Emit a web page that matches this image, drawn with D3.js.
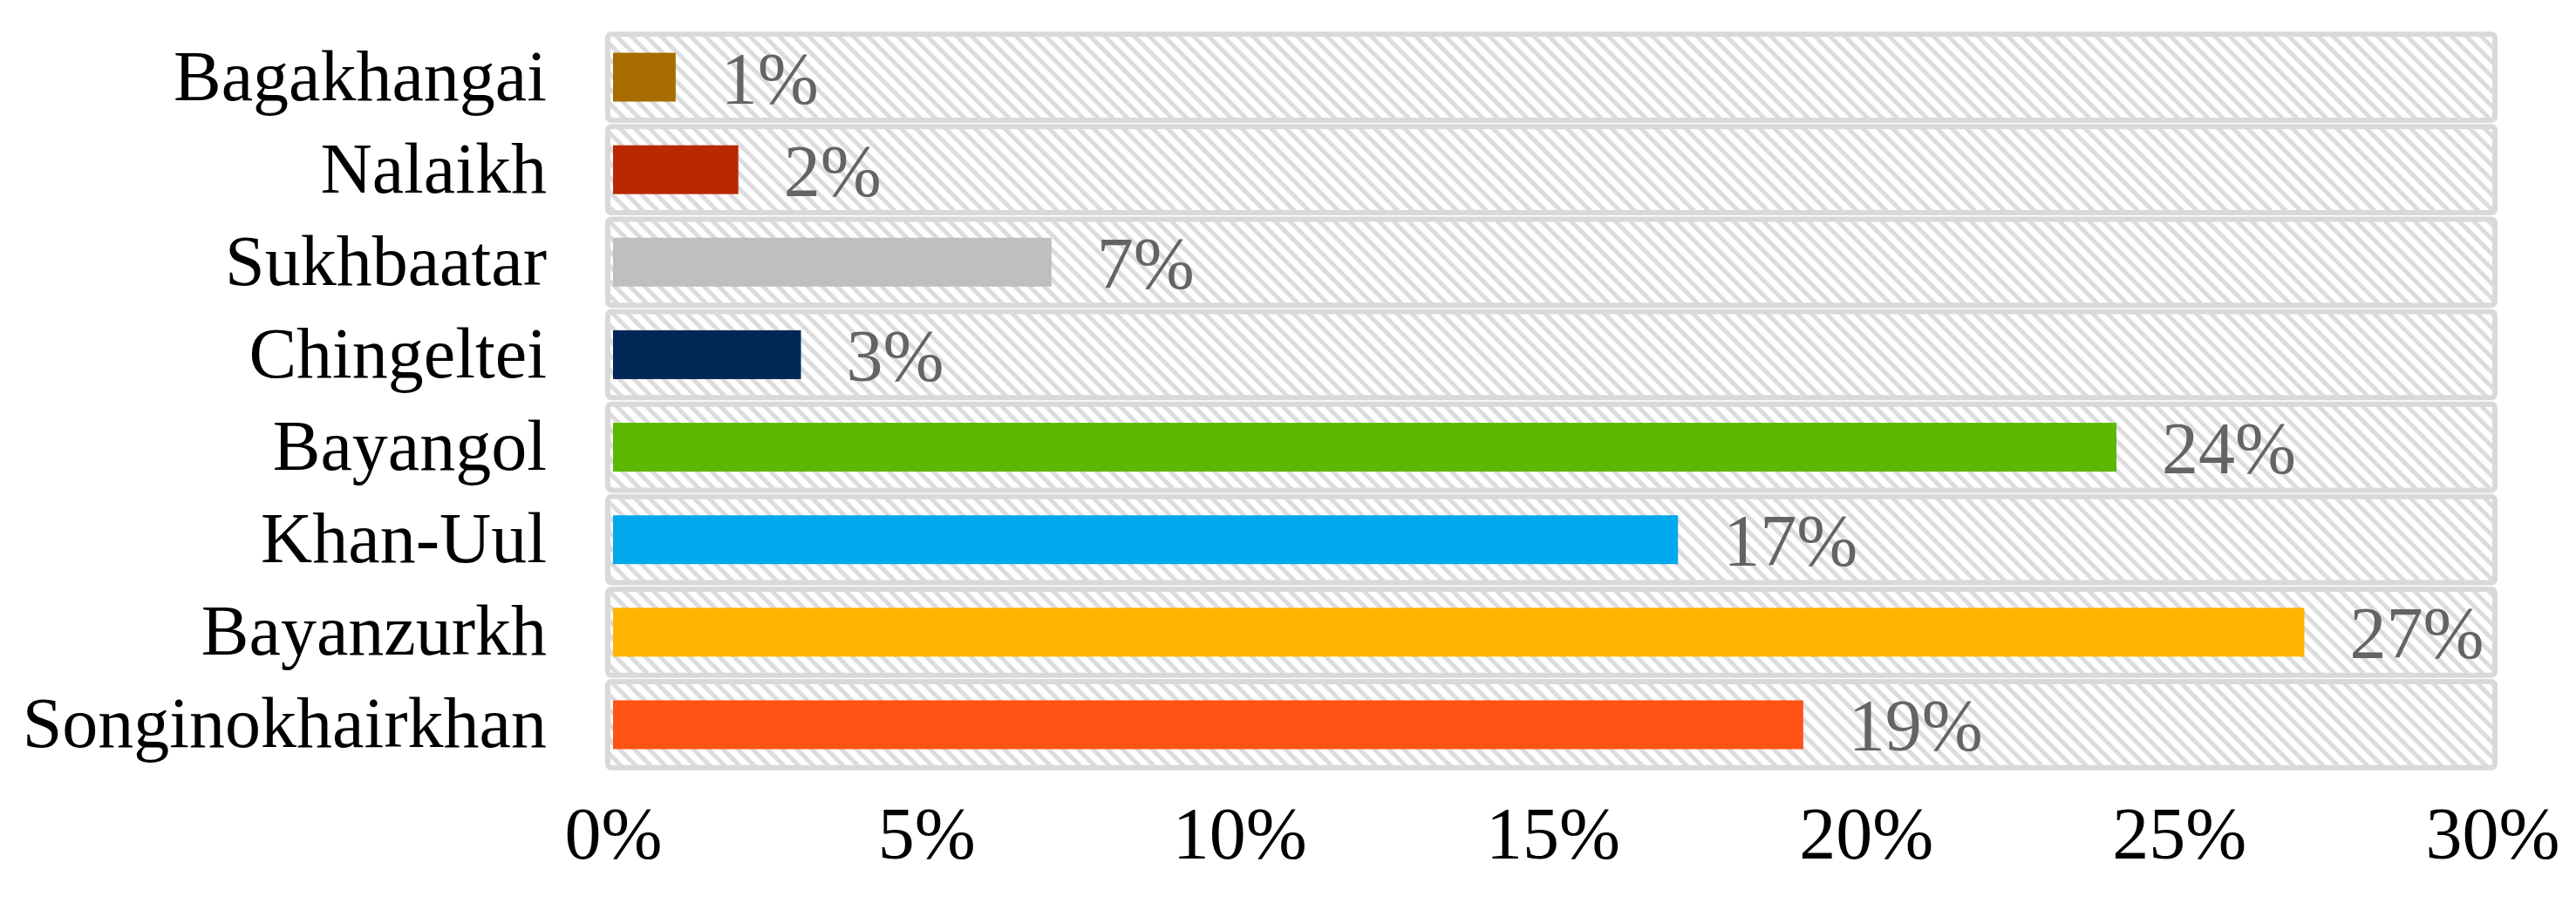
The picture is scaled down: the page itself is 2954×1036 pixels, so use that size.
<!DOCTYPE html>
<html><head><meta charset="utf-8">
<script src="https://cdn.jsdelivr.net/npm/d3@7"></script>
<style>body{margin:0;background:#fff}</style>
</head><body><svg id="chart" width="2954" height="1036"></svg>
<script>
const districts = ["Bagakhangai","Nalaikh","Sukhbaatar","Chingeltei","Bayangol","Khan-Uul","Bayanzurkh","Songinokhairkhan"];
const shares = [1,2,7,3,24,17,27,19];
const barColors = ["#a86c00","#b92800","#bfbfbf","#002856","#5cb800","#00a8ec","#ffb500","#ff5214"];
const xTicks = [0,5,10,15,20,25,30];

let svg = d3.select("#chart");
let defs = svg.append("defs");
let pat = defs.append("pattern").attr("id","hatch").attr("patternUnits","userSpaceOnUse")
  .attr("width",12).attr("height",12).attr("patternTransform","rotate(-45)");
pat.append("rect").attr("width",12).attr("height",12).attr("fill","#fff");
pat.append("rect").attr("width",5).attr("height",12).attr("fill","#dcdcdc");

let x = d3.scaleLinear().domain([0,30]).range([703,2858]);
let y = d3.scaleBand().domain(districts).range([36,884]).paddingInner(0.07).paddingOuter(0.03);

svg.selectAll(".band").data(districts).enter().append("rect")
  .attr("x",697).attr("y",d=>y(d)).attr("width",2164).attr("height",y.bandwidth())
  .attr("rx",4).attr("fill","url(#hatch)").attr("stroke","#d9d9d9").attr("stroke-width",6);

let barH = 56;
svg.selectAll(".bar").data(districts).enter().append("rect")
  .attr("x",x(0)).attr("y",d=>y(d)+y.bandwidth()/2-barH/2)
  .attr("width",(d,i)=>x(shares[i])-x(0)).attr("height",barH)
  .attr("fill",(d,i)=>barColors[i]);

svg.selectAll(".val").data(districts).enter().append("text")
  .attr("x",(d,i)=>x(shares[i])+52).attr("y",d=>y(d)+y.bandwidth()/2+30)
  .attr("font-family","Liberation Serif").attr("font-size",84).attr("fill","#646464")
  .text((d,i)=>shares[i]+"%");

svg.selectAll(".cat").data(districts).enter().append("text")
  .attr("x",627).attr("y",d=>y(d)+y.bandwidth()/2+26).attr("text-anchor","end")
  .attr("font-family","Liberation Serif").attr("font-size",82).attr("fill","#000")
  .text(d=>d);

let ax = svg.append("g").attr("transform","translate(0,985)")
  .call(d3.axisBottom(x).tickValues(xTicks).tickFormat(d=>d+"%").tickSize(0));
ax.select(".domain").remove();
ax.selectAll("text").attr("font-family","Liberation Serif").attr("font-size",84).attr("fill","#000").attr("dy","0").attr("y",0);
</script></body></html>
